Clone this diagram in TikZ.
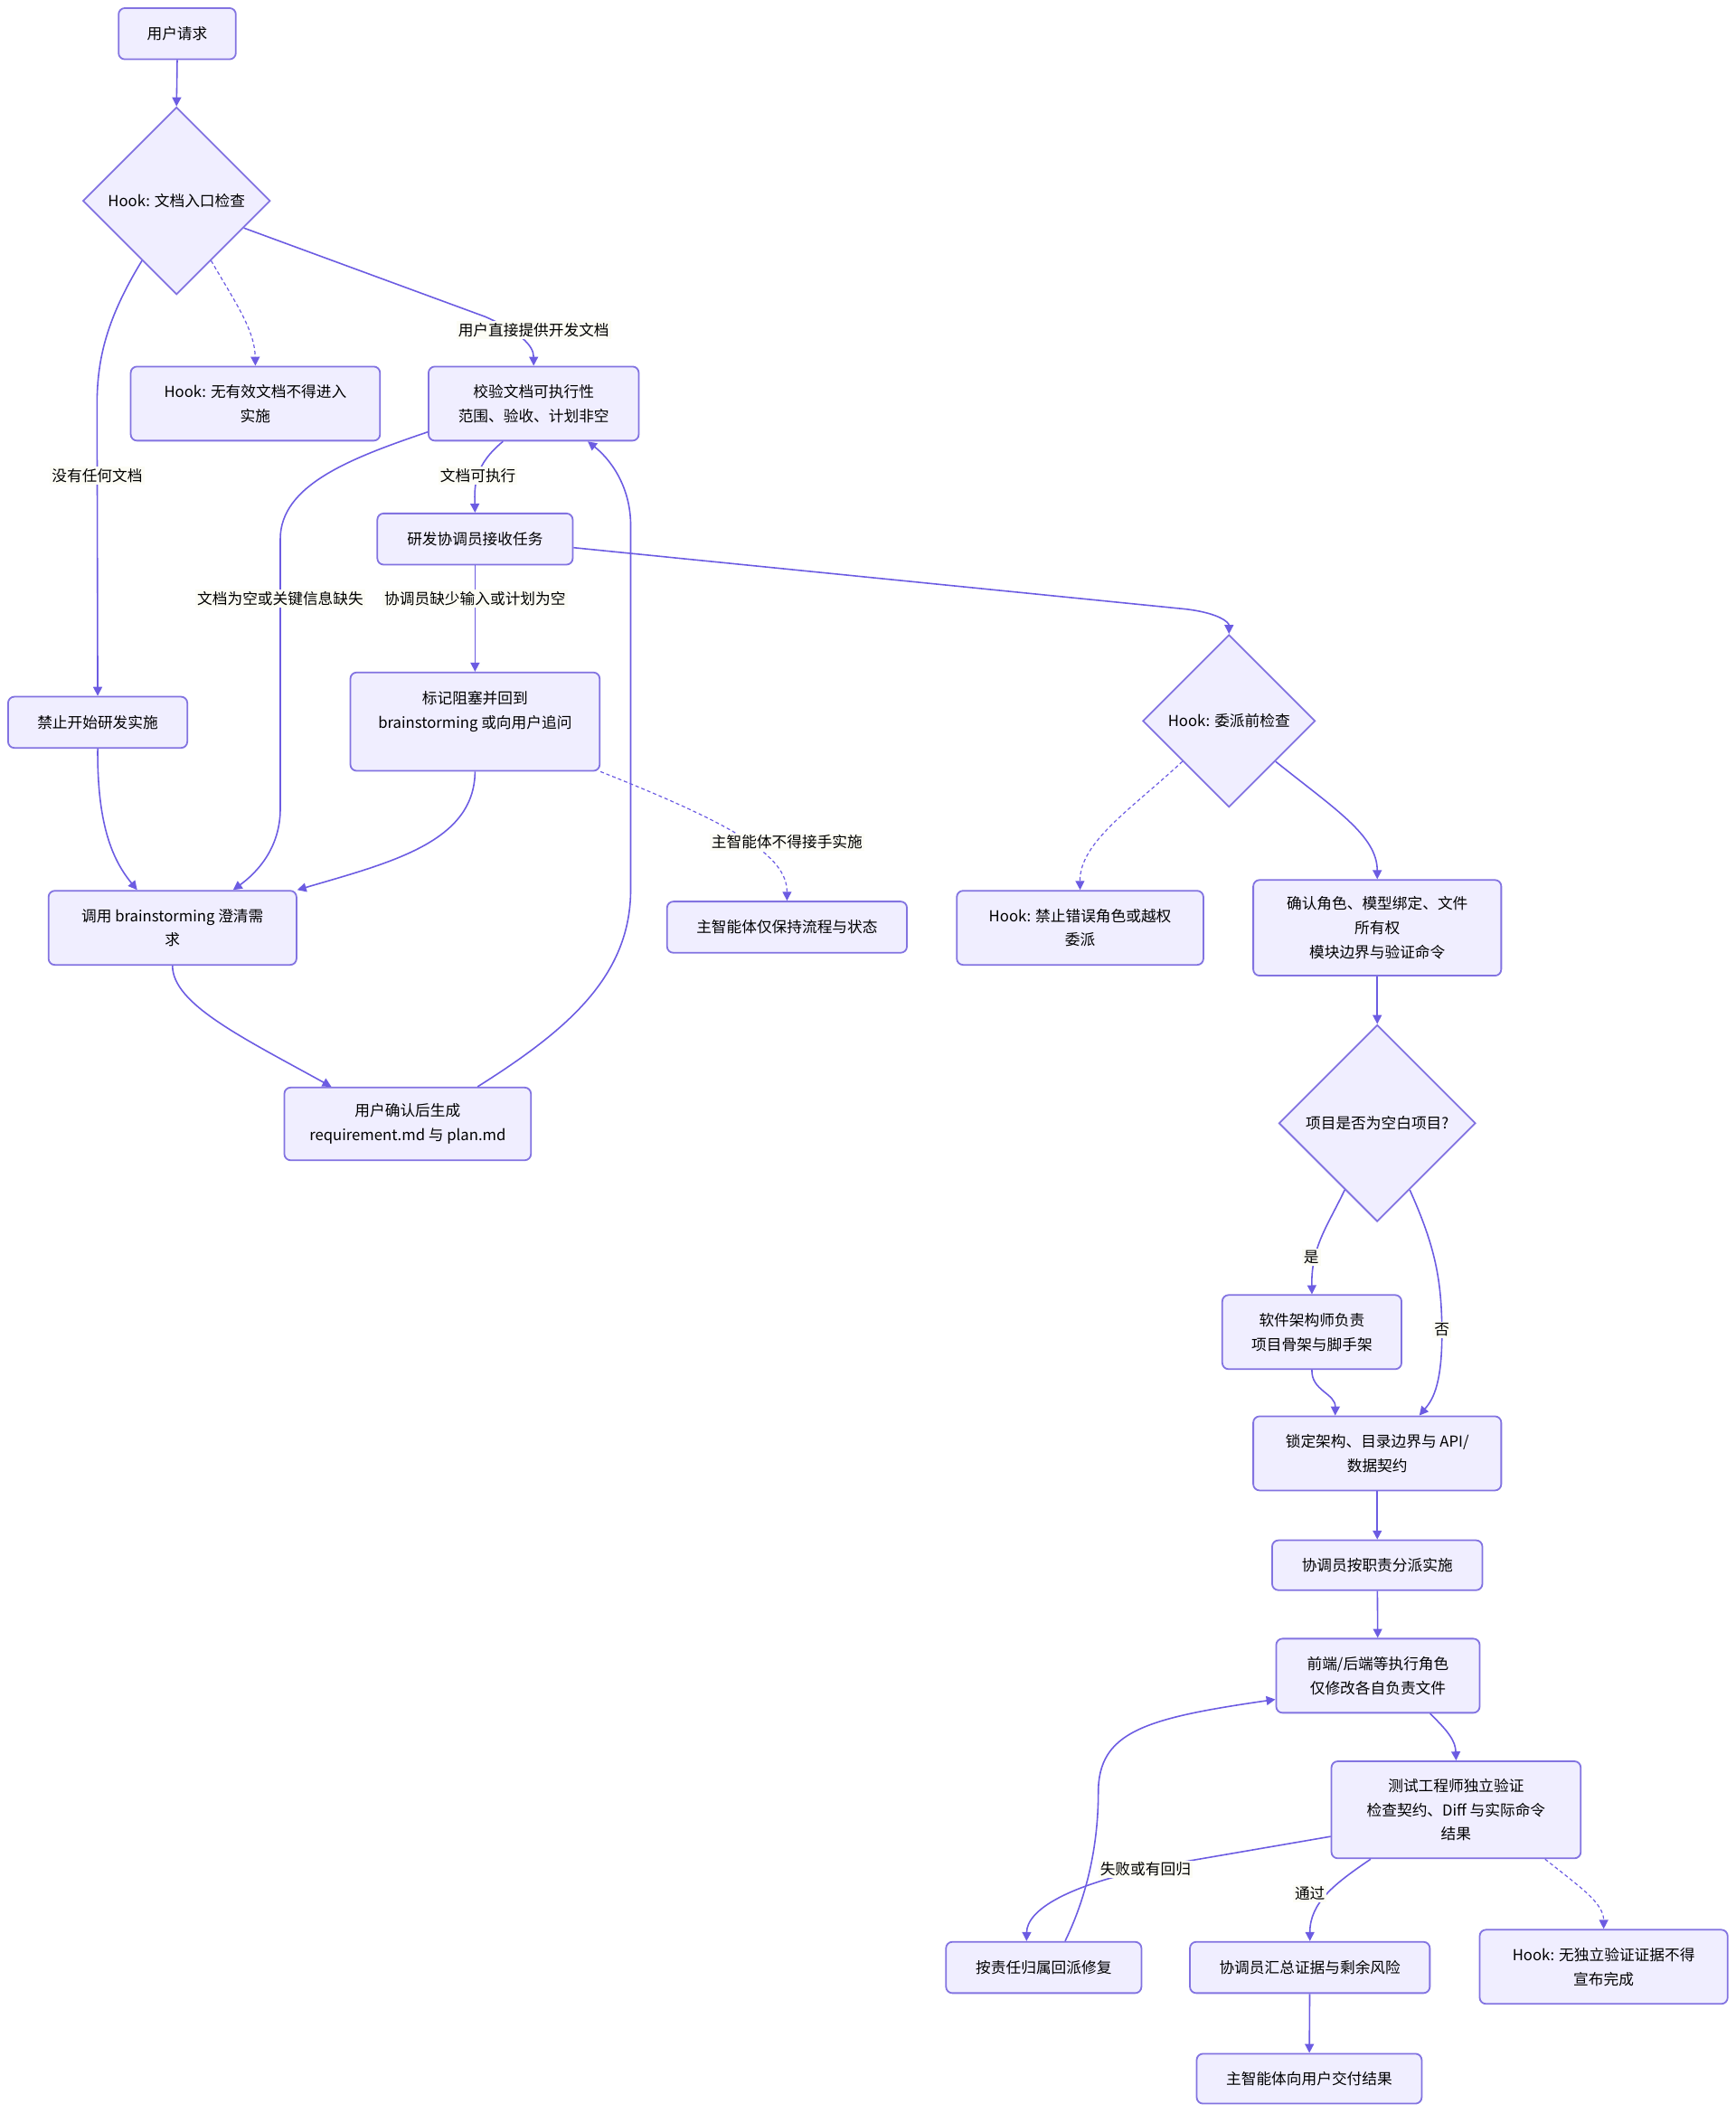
\documentclass[tikz,border=0pt]{standalone}
\usepackage{fontspec}
\setmainfont{Noto Sans CJK SC}
\usepackage{tikz}
\usetikzlibrary{arrows.meta, shapes.geometric}

\definecolor{flowline}{RGB}{108,92,226}
\definecolor{flowedge}{RGB}{130,115,225}
\definecolor{flowfill}{RGB}{240,238,255}
\definecolor{labelbg}{RGB}{252,252,245}
\newcommand{\flowfont}{\fontsize{8.4pt}{13.5pt}\selectfont}

\tikzset{
  proc/.style 2 args={draw=flowedge, fill=flowfill, line width=0.9pt, rounded corners=3.5pt,
    align=center, inner sep=0pt, minimum width=#1*0.75pt, minimum height=#2*0.75pt, font=\flowfont},
  cond/.style={diamond, aspect=1, draw=flowedge, fill=flowfill, line width=0.9pt,
    inner sep=0pt, minimum size=#1*0.75pt, font=\flowfont},
  flow/.style={draw=flowline, line width=0.8pt, -{Triangle[length=5pt,width=5pt]}},
  weak/.style={flow, line width=0.6pt, dash pattern=on 2pt off 1.5pt},
  lbl/.style={fill=labelbg, inner sep=1pt, font=\flowfont},
}

\begin{document}
\begin{tikzpicture}[x=0.75pt,y=0.75pt,yscale=-1,xscale=1]
\useasboundingbox (0,0) rectangle (1288,1568);

% left column
\node[proc={87}{38}] (request) at (131.5,25) {用户请求};
\node[cond=139] (entry) at (131,149) {Hook: 文档入口检查};
\node[proc={185}{55}] (nodoc) at (189.5,299.5) {Hook: 无有效文档不得进入\\实施};
\node[proc={156}{55}] (verify) at (396,299.5) {校验文档可执行性\\范围、验收、计划非空};
\node[proc={145}{38}] (coord) at (352.5,400) {研发协调员接收任务};
\node[proc={133}{38}] (forbid) at (72.5,536) {禁止开始研发实施};
\node[proc={185}{73}] (block) at (352.5,535.5) {标记阻塞并回到\\brainstorming 或向用户追问\\~};
\node[proc={184}{55}] (brain) at (128,688.5) {调用 brainstorming 澄清需\\求};
\node[proc={178}{38}] (keep) at (584,688) {主智能体仅保持流程与状态};
\node[proc={183}{54}] (gen) at (302.5,834) {用户确认后生成\\requirement.md 与 plan.md};

% right column
\node[cond=128] (predeleg) at (912,535) {Hook: 委派前检查};
\node[proc={183}{55}] (wrongrole) at (801.5,688.5) {Hook: 禁止错误角色或越权\\委派};
\node[proc={184}{71}] (confirm) at (1022,688.5) {确认角色、模型绑定、文件\\所有权\\模块边界与验证命令};
\node[cond=146] (blank) at (1022,833.5) {项目是否为空白项目?};
\node[proc={133}{55}] (arch) at (973.5,988.5) {软件架构师负责\\项目骨架与脚手架};
\node[proc={184}{55}] (lock) at (1022,1078.5) {锁定架构、目录边界与 API/\\数据契约};
\node[proc={156}{37}] (assign) at (1022,1161.5) {协调员按职责分派实施};
\node[proc={151}{55}] (exec) at (1022.5,1243.5) {前端/后端等执行角色\\仅修改各自负责文件};
\node[proc={185}{72}] (test) at (1080.5,1343) {测试工程师独立验证\\检查契约、Diff 与实际命令\\结果};
\node[proc={145}{38}] (fix) at (774.5,1460) {按责任归属回派修复};
\node[proc={178}{38}] (summary) at (972,1460) {协调员汇总证据与剩余风险};
\node[proc={184}{55}] (hookdone) at (1190,1459.5) {Hook: 无独立验证证据不得\\宣布完成};
\node[proc={167}{37}] (deliver) at (971.5,1542.5) {主智能体向用户交付结果};

% entry check
\draw[flow] (request.south) -- (entry.north);
\draw[flow] (entry.240) .. controls (80,235) and (72,265) .. (72,300) -- node[lbl, pos=0.245] {没有任何文档} (forbid.north);
\draw[weak] (entry.300) .. controls (175,225) and (189,245) .. (nodoc.north);
\draw[flow] (entry.338) -- (360,235) .. controls (385,246) and (396,256) .. (verify.north) node[lbl] at (396,245) {用户直接提供开发文档};

% document check
\draw[flow] (verify.195) .. controls (260,340) and (208,360) .. (208,400) -- node[lbl, pos=0.22] {文档为空或关键信息缺失} (208,600) .. controls (208,630) and (190,648) .. (brain.32);
\draw[flow] (verify.231) .. controls (352,345) and (352,360) .. (coord.north) node[lbl, pos=0.5] {文档可执行};
\draw[flow] (coord) -- node[lbl, pos=0.31] {协调员缺少输入或计划为空} (block);
\draw[flow] (coord.-5) -- (880,452) .. controls (905,455) and (912,462) .. (predeleg.north);

% back to brainstorming
\draw[flow] (forbid.south) .. controls (72,615) and (85,640) .. (brain.133);
\draw[flow] (block.south) .. controls (352,625) and (290,640) .. (brain.north east);
\draw[weak] (block.south east) .. controls (545,612) and (584,635) .. (keep.north) node[lbl] at (584,625) {主智能体不得接手实施};
\draw[flow] (brain.south) .. controls (128,745) and (180,770) .. (gen.154);
\draw[flow] (gen.28) .. controls (420,765) and (468,725) .. (468,660) -- (468,390) .. controls (468,360) and (452,340) .. (verify.-35);

% delegation
\draw[weak] (predeleg.221) .. controls (840,600) and (801,625) .. (wrongrole.north);
\draw[flow] (predeleg.319) .. controls (990,600) and (1022,620) .. (confirm.north);
\draw[flow] (confirm) -- (blank);
\draw[flow] (blank.244) .. controls (985,910) and (973,925) .. (arch.north) node[lbl] at (973,933) {是};
\draw[flow] (blank.296) .. controls (1065,925) and (1070,950) .. (1070,990) .. controls (1070,1030) and (1062,1040) .. (lock.42) node[lbl] at (1070,987) {否};
\draw[flow] (arch.south) .. controls (973,1032) and (991,1034) .. (lock.138);
\draw[flow] (lock) -- (assign);
\draw[flow] (assign) -- (exec);
\draw[flow] (exec.-36) .. controls (1075,1285) and (1080,1292) .. (test.north);

% verification
\draw[flow] (test.192) -- (870,1383) .. controls (790,1398) and (762,1418) .. (fix.123) node[lbl] at (850,1387) {失败或有回归};
\draw[flow] (test.210) .. controls (990,1398) and (972,1412) .. (summary.north) node[lbl] at (972,1405) {通过};
\draw[weak] (test.331) .. controls (1172,1400) and (1190,1412) .. (hookdone.north);
\draw[flow] (summary) -- (deliver);
\draw[flow] (fix.51) .. controls (810,1400) and (815,1360) .. (815,1330) .. controls (815,1285) and (850,1275) .. (exec.193);
\end{tikzpicture}
\end{document}
